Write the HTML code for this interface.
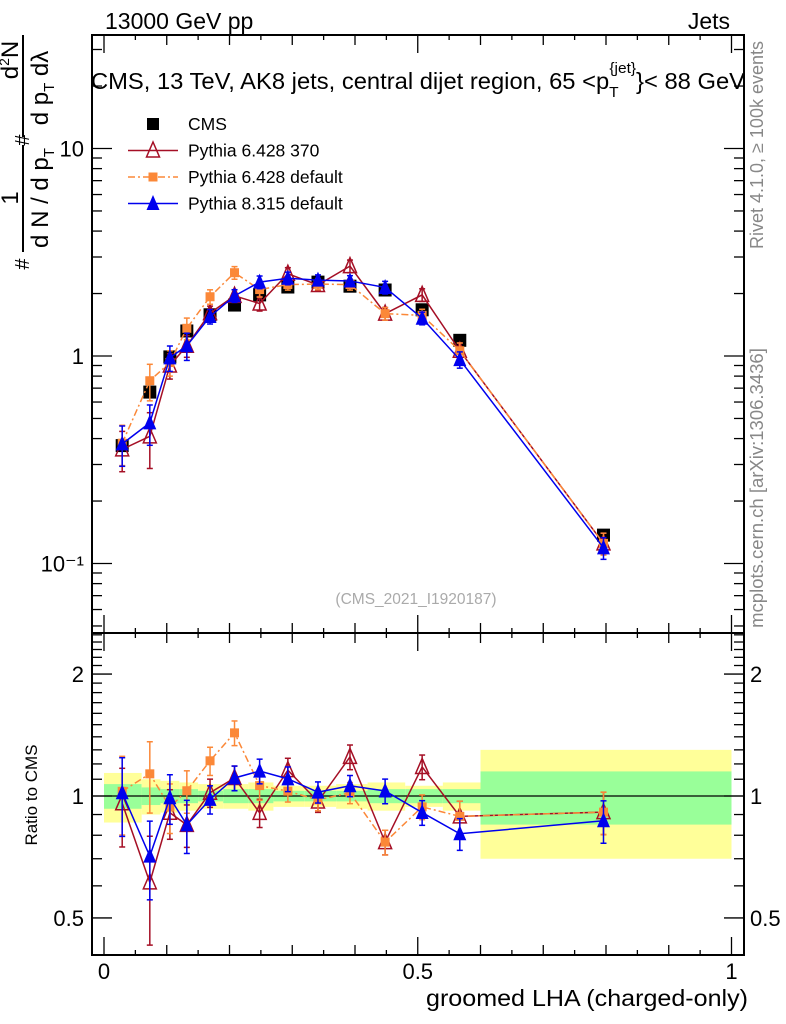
<!DOCTYPE html>
<html><head><meta charset="utf-8"><style>
html,body{margin:0;padding:0;background:#fff;}
svg{display:block;font-family:"Liberation Sans",sans-serif;}
</style></head><body>
<svg id="chart" width="786" height="1024" viewBox="0 0 786 1024">
<g id="bands"></g>
<g id="axes"></g>
<g id="series"></g>
<text x="105" y="29" font-size="23">13000 GeV pp</text>
<text x="730" y="29" font-size="23" text-anchor="end">Jets</text>
<text x="91" y="89" font-size="23" textLength="654" lengthAdjust="spacingAndGlyphs">CMS, 13 TeV, AK8 jets, central dijet region, 65 &lt;p<tspan font-size="15" dy="8">T</tspan><tspan font-size="15" dy="-24" dx="-9">{jet}</tspan><tspan dy="16">}&lt; 88 GeV</tspan></text>
<text x="416" y="604" font-size="15.5" fill="#aaa" text-anchor="middle">(CMS_2021_I1920187)</text>
<text transform="translate(763,145) rotate(-90)" font-size="18" fill="#888" text-anchor="middle">Rivet 4.1.0, ≥ 100k events</text>
<text transform="translate(763,488) rotate(-90)" font-size="18.5" fill="#888" text-anchor="middle">mcplots.cern.ch [arXiv:1306.3436]</text>
<g font-size="24">
 <line x1="23" y1="145" x2="23" y2="252" stroke="#000" stroke-width="2"/>
 <line x1="23" y1="35" x2="23" y2="137" stroke="#000" stroke-width="2"/>
 <text transform="translate(18,198) rotate(-90)" text-anchor="middle">1</text>
 <text transform="translate(48,198) rotate(-90)" text-anchor="middle">d N / d p<tspan font-size="15" dy="6">T</tspan></text>
 <text transform="translate(29,264) rotate(-90)" text-anchor="middle" font-size="20">#</text>
 <text transform="translate(29,140) rotate(-90)" text-anchor="middle" font-size="20">#</text>
 <text transform="translate(18,60) rotate(-90)" text-anchor="middle">d<tspan font-size="14" dy="-9">2</tspan><tspan dy="9">N</tspan></text>
 <text transform="translate(48,88) rotate(-90)" text-anchor="middle">d p<tspan font-size="15" dy="6">T</tspan><tspan dy="-6"> dλ</tspan></text>
</g>
<text transform="translate(37,795) rotate(-90)" font-size="17" text-anchor="middle">Ratio to CMS</text>
<text x="748" y="1006" font-size="23" text-anchor="end" textLength="322" lengthAdjust="spacingAndGlyphs">groomed LHA (charged-only)</text>
<g id="legend"></g>
</svg>
<script>
const xCenters=[0.029,0.073,0.105,0.132,0.169,0.208,0.248,0.293,0.341,0.392,0.448,0.507,0.567,0.796];
const binEdges=[0,0.06,0.09,0.12,0.15,0.19,0.23,0.27,0.32,0.37,0.42,0.48,0.54,0.6,1.0];
const cmsValues=[0.37,0.67,0.99,1.32,1.58,1.76,1.97,2.15,2.27,2.17,2.08,1.67,1.19,0.137];
const cmsTotalErr=[0.14,0.10,0.09,0.08,0.07,0.07,0.08,0.06,0.06,0.07,0.08,0.06,0.08,0.30];
const cmsStatErr=[0.07,0.05,0.04,0.04,0.03,0.04,0.04,0.03,0.03,0.03,0.04,0.04,0.04,0.15];
const p6_370=[0.355,0.41,0.90,1.12,1.61,1.95,1.79,2.49,2.20,2.71,1.60,1.97,1.06,0.125];
const p6_def=[0.38,0.76,0.93,1.36,1.93,2.52,2.09,2.21,2.22,2.21,1.60,1.57,1.06,0.125];
const p8_def=[0.377,0.476,0.98,1.12,1.55,1.95,2.27,2.37,2.32,2.30,2.14,1.52,0.96,0.119];
const p6_370Err=[0.22,0.30,0.14,0.12,0.08,0.07,0.08,0.07,0.06,0.07,0.07,0.07,0.09,0.12];
const p6_defErr=[0.22,0.20,0.14,0.12,0.08,0.07,0.08,0.06,0.06,0.06,0.07,0.07,0.09,0.12];
const p8_defErr=[0.22,0.22,0.14,0.15,0.08,0.07,0.07,0.07,0.06,0.06,0.07,0.07,0.09,0.12];
const xTickLabels=["0","0.5","1"];
const xTickValues=[0,0.5,1];
const yMainTicks=[0.1,1,10];
const yMainTickLabels=["10⁻¹","1","10"];
const yRatioTicks=[0.5,1,2];
const yRatioTickLabels=["0.5","1","2"];

const NS="http://www.w3.org/2000/svg";
const L=92,R=744,T=35,MID=633,B=955;
const X=v=>104+v*627.5;
const YM=v=>356-Math.log10(v)*207.5;
const YR=v=>796-Math.log10(v)*405;
function mk(tag,attrs,parent){const e=document.createElementNS(NS,tag);for(const k in attrs)e.setAttribute(k,attrs[k]);parent.appendChild(e);return e;}
const axes=document.getElementById('axes'),bands=document.getElementById('bands'),series=document.getElementById('series'),legend=document.getElementById('legend');

for(let i=0;i<cmsValues.length;i++){
  const x0=X(binEdges[i]),x1=Math.min(X(binEdges[i+1]),R);
  const y=mk('rect',{x:x0,y:YR(1+cmsTotalErr[i]),width:x1-x0,height:YR(1-cmsTotalErr[i])-YR(1+cmsTotalErr[i]),fill:'#ffff99'},bands);
  
  
  const g=mk('rect',{x:x0,y:YR(1+cmsStatErr[i]),width:x1-x0,height:YR(1-cmsStatErr[i])-YR(1+cmsStatErr[i]),fill:'#99ff99'},bands);
  
  
}
mk('rect',{x:L,y:T,width:R-L,height:MID-T,fill:'none',stroke:'#000','stroke-width':2},axes);
mk('rect',{x:L,y:MID,width:R-L,height:B-MID,fill:'none',stroke:'#000','stroke-width':2},axes);
mk('line',{x1:L,x2:R,y1:YR(1),y2:YR(1),stroke:'#000','stroke-width':1.3},axes);
for(let k=0;k<=20;k++){const v=k*0.05,x=X(v);const len=k%10==0?18:(k%2==0?10:5);
  [[T,1],[MID,-1],[MID,1],[B,-1]].forEach(([y0,d])=>mk('line',{x1:x,x2:x,y1:y0,y2:y0+d*len,stroke:'#000','stroke-width':1.3},axes));}
xTickValues.forEach((v,i)=>{const t=mk('text',{x:X(v),y:979,'font-size':22,'text-anchor':'middle'},axes);t.textContent=xTickLabels[i];
  
  });
for(let d=-2;d<=1;d++)for(let m=1;m<=9;m++){const v=m*Math.pow(10,d);const y=YM(v);if(y<T||y>MID)continue;const len=m==1?20:10;
  mk('line',{x1:L,x2:L+len,y1:y,y2:y,stroke:'#000','stroke-width':1.3},axes);mk('line',{x1:R,x2:R-len,y1:y,y2:y,stroke:'#000','stroke-width':1.3},axes);}
yMainTicks.forEach((v,i)=>{const t=mk('text',{x:84,y:YM(v)+8,'font-size':22,'text-anchor':'end'},axes);t.textContent=yMainTickLabels[i];
  
  });
for(let k=4;k<=25;k++){const v=k/10;const y=YR(v);if(y<MID||y>B)continue;const major=(v==0.5||v==1||v==2);const len=major?20:10;
  mk('line',{x1:L,x2:L+len,y1:y,y2:y,stroke:'#000','stroke-width':1.3},axes);mk('line',{x1:R,x2:R-len,y1:y,y2:y,stroke:'#000','stroke-width':1.3},axes);}
yRatioTicks.forEach((v,i)=>{const t=mk('text',{x:84,y:YR(v)+8,'font-size':22,'text-anchor':'end'},axes);t.textContent=yRatioTickLabels[i];
  
  
  const t2=mk('text',{x:750,y:YR(v)+8,'font-size':22},axes);t2.textContent=yRatioTickLabels[i];
  
  });

function marker(g,type,x,y,color,s){
  if(type=='sq')mk('rect',{x:x-s,y:y-s,width:2*s,height:2*s,fill:color},g);
  else if(type=='tri-open')mk('polygon',{points:`${x},${y-s-2} ${x-s},${y+s} ${x+s},${y+s}`,fill:'none',stroke:color,'stroke-width':1.5},g);
  else mk('polygon',{points:`${x},${y-s-2} ${x-s},${y+s} ${x+s},${y+s}`,fill:color},g);
}
function drawModel(vals,errs,color,type,dash,name){
  const g=mk('g',{},series);
  
  
  [[YM,v=>v],[YR,(v,i)=>v/cmsValues[i]]].forEach(([Y,f])=>{
    const pts=vals.map((v,i)=>`${X(xCenters[i])},${Y(f(v,i))}`).join(' ');
    mk('polyline',{points:pts,fill:'none',stroke:color,'stroke-width':1.5,'stroke-dasharray':dash},g);
    vals.forEach((v,i)=>{const x=X(xCenters[i]),c=f(v,i);const yt=Y(c*(1+errs[i])),yb=Y(c*(1-errs[i]));
      mk('line',{x1:x,x2:x,y1:yt,y2:yb,stroke:color,'stroke-width':1.5},g);
      mk('line',{x1:x-3,x2:x+3,y1:yt,y2:yt,stroke:color,'stroke-width':1.5},g);
      mk('line',{x1:x-3,x2:x+3,y1:yb,y2:yb,stroke:color,'stroke-width':1.5},g);
      marker(g,type,x,Y(c),color,type=='sq'?4.5:6.5);});
  });
}
const cg=mk('g',{},series);


cmsValues.forEach((v,i)=>marker(cg,'sq',X(xCenters[i]),YM(v),'#000',6.5));
drawModel(p6_370,p6_370Err,'#a50f25','tri-open','','pythia-6-428-370');
drawModel(p6_def,p6_defErr,'#fb8838','sq','7,3,2,3','pythia-6-428-default');
drawModel(p8_def,p8_defErr,'#0000ee','tri','','pythia-8-315-default');

const leg=[['CMS','#000','sq',''],['Pythia 6.428 370','#a50f25','tri-open',''],['Pythia 6.428 default','#fb8838','sq','7,3,2,3'],['Pythia 8.315 default','#0000ee','tri','']];
leg.forEach((e,i)=>{const y=124+i*26.5;const g=mk('g',{},legend);
  
  
  if(i>0)mk('line',{x1:128,x2:178,y1:y,y2:y,stroke:e[1],'stroke-width':1.5,'stroke-dasharray':e[3]},g);
  marker(g,e[2],153,y,e[1],i==0?6:(e[2]=='sq'?4.5:6.5));
  const t=mk('text',{x:188,y:y+6,'font-size':17.5},g);t.textContent=e[0];});
</script>
</body></html>
